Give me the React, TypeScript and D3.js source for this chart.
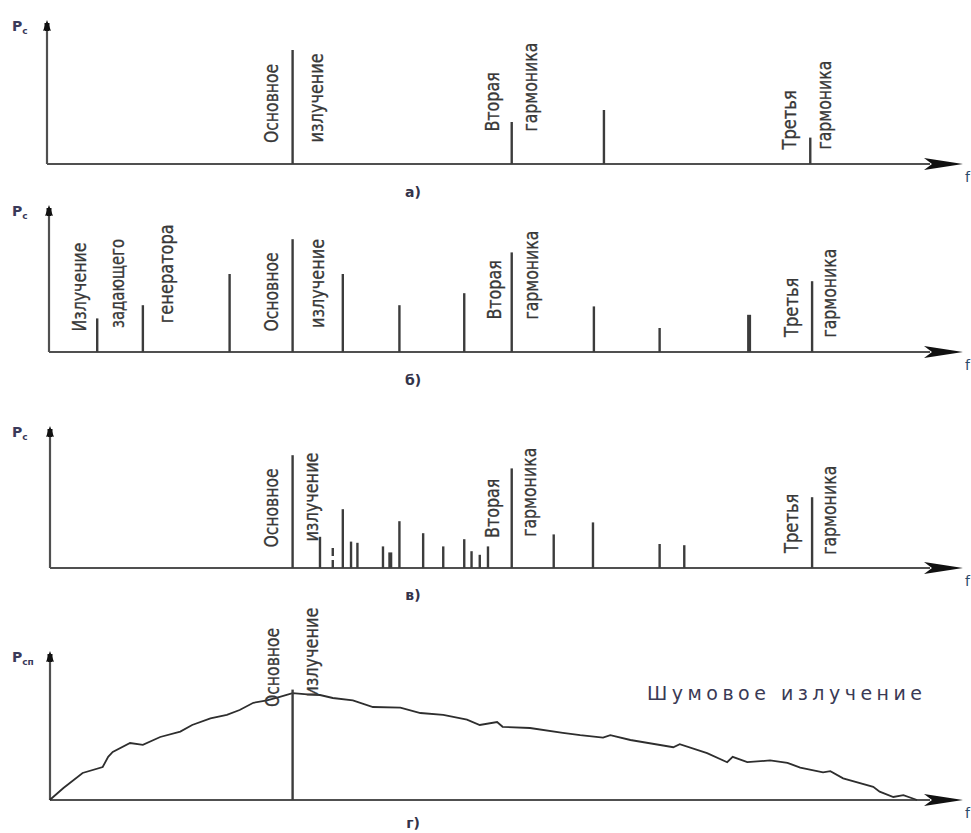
import React from "react";
import * as d3 from "d3";

// ---------- DATA (frequency in relative units 0..100, amplitude in relative units) ----------
// Panel а)
const freqA = [26.9, 50.9, 61.0, 83.6];
const ampA = [95, 35, 45, 22];
const labelTextA = ["Основное", "излучение", "Вторая", "гармоника", "Третья", "гармоника"];
const labelFreqA = [24.6, 29.6, 48.9, 53.0, 81.4, 85.2];
const labelAmpA = [17.5, 18, 27, 27, 12, 12];

// Panel б)
const freqB = [5.5, 10.5, 20.0, 26.9, 32.4, 38.6, 45.7, 50.9, 59.9, 67.1, 76.9, 83.8];
const ampB = [28, 39, 65, 94, 65, 39, 49, 83, 38, 20, 31, 59];
const labelTextB = ["Излучение", "задающего", "генератора", "Основное", "излучение", "Вторая", "гармоника", "Третья", "гармоника"];
const labelFreqB = [3.6, 7.8, 13.1, 24.6, 29.7, 49.1, 53.1, 81.6, 85.8];
const labelAmpB = [17, 20, 24, 17, 20, 27, 27, 12.5, 12];

// Panel в)
const freqC = [26.9, 29.9, 32.4, 33.3, 34.0, 36.8, 37.6, 38.6, 41.2, 43.4, 45.7, 46.5, 47.4, 48.3, 50.9, 55.5, 59.8, 67.1, 69.8, 83.8];
const ampC = [94, 26, 49, 22, 21, 18, 13, 39, 29, 18, 24, 14, 11, 18, 83, 28, 38, 20, 19, 59];
const dashedFreqC = [31.3];
const dashedAmpC = [19];
const labelTextC = ["Основное", "излучение", "Вторая", "гармоника", "Третья", "гармоника"];
const labelFreqC = [24.6, 29.0, 48.9, 52.9, 81.6, 85.8];
const labelAmpC = [17, 22, 25, 26, 12.5, 11];

// Panel г)
const freqD = [26.9];
const ampD = [92];
const noiseFreq = [0.3, 1.8, 3.9, 6.1, 6.7, 7.2, 9.1, 10.5, 12.4, 14.6, 15.9, 17.9, 19.7, 21.1, 22.6, 24.1, 25.5, 26.9, 28.5, 29.9, 31.3, 33.5, 35.7, 38.7, 40.9, 43.4, 46.0, 47.4, 49.3, 49.9, 52.9, 56.5, 58.4, 60.9, 61.7, 63.9, 68.6, 69.3, 72.3, 74.5, 75.1, 76.7, 79.2, 81.1, 82.5, 85.0, 85.8, 87.2, 90.5, 91.2, 92.7, 93.8, 95.3];
const noiseAmp = [0, 10, 22.5, 27.5, 36, 40, 47.5, 46, 52.5, 57, 62.5, 68, 71, 75, 81, 83, 86, 89, 88, 87.5, 85, 83, 77.5, 77, 72.5, 71, 67, 62.5, 65, 61, 60, 56, 54, 52, 54, 50, 44, 46.5, 39, 31.5, 36, 31.5, 33, 31, 27, 23, 24, 18, 11, 7, 2.5, 4, 0];
const labelTextD = ["Основное", "излучение"];
const labelFreqD = [24.8, 29.0];
const labelAmpD = [77.5, 86];

const captions = ["а)", "б)", "в)", "г)"];
const ySubs = ["с", "с", "с", "сп"];
const noiseLabel = "Шумовое излучение";

// ---------- LAYOUT ----------
const W = 971;
const H = 833;
const baselines = [164, 352, 568, 800];
const captionOffsets = [33, 33, 32, 28];
const axisTops = [20, 205, 426, 651];
const axisXs = [47, 49, 50, 50];
const INK = "#3c3c3c";
const labelFont = "'DejaVu Sans Condensed', 'Liberation Sans Narrow', 'DejaVu Sans', sans-serif";
const roundFont = "'DejaVu Sans', Verdana, sans-serif";

const x = d3.scaleLinear().domain([0, 100]).range([47, 960]);
const yFor = (b: number) => d3.scaleLinear().domain([0, 100]).range([b, b - 120]);

function Axes({ i }: { i: number }) {
  const b = baselines[i];
  const ax = axisXs[i];
  const top = axisTops[i];
  return (
    <g>
      <line x1={ax} y1={top + 6} x2={ax} y2={b} stroke="#505050" strokeWidth={2.2} />
      <line x1={ax} y1={b} x2={930} y2={b} stroke="#505050" strokeWidth={2} />
      <polygon
        points={`${ax},${top} ${ax - 4},${top + 11} ${ax},${top + 9} ${ax + 4},${top + 11}`}
        fill="#111"
      />
      <rect x={ax - 2.5} y={top + 3} width={5} height={8} fill="#111" />
      <polygon points={`924,${b - 6} 963,${b} 924,${b + 6} 932,${b}`} fill="#111" />
      <text x={965} y={b + 18} fontFamily={roundFont} fontSize={14} fill="#2a4a6a">f</text>
      <text x={12} y={top + 11} fontFamily={roundFont} fontSize={14} fontWeight={600} fill="#3a3a5a">
        P
        <tspan fontSize={9} dy={3}>{ySubs[i]}</tspan>
      </text>
      <text
        x={413}
        y={b + captionOffsets[i]}
        textAnchor="middle"
        fontFamily={roundFont}
        fontSize={14}
        fontWeight={600}
        fill="#33334a"
      >
        {captions[i]}
      </text>
    </g>
  );
}

function Bars({ i, freqs, amps, thick }: { i: number; freqs: number[]; amps: number[]; thick?: number[] }) {
  const y = yFor(baselines[i]);
  return (
    <g>
      {freqs.map((f, k) => (
        <line
          key={k}
          x1={x(f)}
          x2={x(f)}
          y1={y(0)}
          y2={y(amps[k])}
          stroke={INK}
          strokeWidth={thick && thick.includes(k) ? 4 : 2.4}
        />
      ))}
    </g>
  );
}

function Labels({ i, texts, freqs, amps }: { i: number; texts: string[]; freqs: number[]; amps: number[] }) {
  const y = yFor(baselines[i]);
  return (
    <g>
      {texts.map((t, k) => {
        const cx = x(freqs[k]) + 6;
        const by = y(amps[k]);
        return (
          <text
            key={k}
            transform={`translate(${cx},${by}) rotate(-90)`}
            fontFamily={labelFont}
            fontSize={19}
            fill="#383838"
            stroke="#383838"
            strokeWidth={0.3}
            textLength={t.length * 9.9}
            lengthAdjust="spacingAndGlyphs"
          >
            {t}
          </text>
        );
      })}
    </g>
  );
}

export default function App() {
  const yD = yFor(baselines[3]);
  const noiseLine = d3
    .line<number>()
    .x((_, k) => x(noiseFreq[k]))
    .y((a) => yD(a));
  const yC = yFor(baselines[2]);
  return (
    <svg width={W} height={H} style={{ position: "absolute", left: 0, top: 0, background: "#fff" }}>
      <rect width={W} height={H} fill="#fff" />
      {/* а) */}
      <Axes i={0} />
      <Bars i={0} freqs={freqA} amps={ampA} />
      <Labels i={0} texts={labelTextA} freqs={labelFreqA} amps={labelAmpA} />
      {/* б) */}
      <Axes i={1} />
      <Bars i={1} freqs={freqB} amps={ampB} thick={[10]} />
      <Labels i={1} texts={labelTextB} freqs={labelFreqB} amps={labelAmpB} />
      {/* в) */}
      <Axes i={2} />
      <Bars i={2} freqs={freqC} amps={ampC} thick={[6]} />
      {dashedFreqC.map((f, k) => (
        <line
          key={k}
          x1={x(f)}
          x2={x(f)}
          y1={yC(0)}
          y2={yC(dashedAmpC[k])}
          stroke={INK}
          strokeWidth={2.4}
          strokeDasharray="8,4"
        />
      ))}
      <Labels i={2} texts={labelTextC} freqs={labelFreqC} amps={labelAmpC} />
      {/* г) */}
      <Axes i={3} />
      <path d={noiseLine(noiseAmp) || ""} fill="none" stroke="#2e2e2e" strokeWidth={1.8} />
      <Bars i={3} freqs={freqD} amps={ampD} />
      <Labels i={3} texts={labelTextD} freqs={labelFreqD} amps={labelAmpD} />
      <text
        x={647}
        y={700}
        fontFamily={roundFont}
        fontSize={19}
        fill="#3a3a55"
        textLength={275}
        lengthAdjust="spacing"
      >
        {noiseLabel}
      </text>
    </svg>
  );
}
